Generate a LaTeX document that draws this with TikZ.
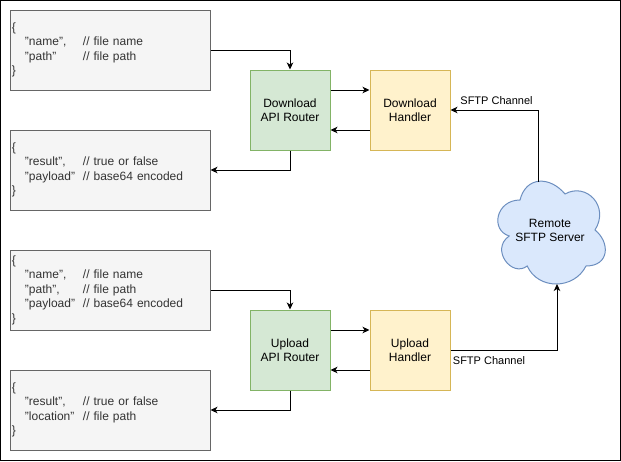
\documentclass[tikz,border=0pt]{standalone}
\usepackage{fontspec}
\setmainfont{Liberation Sans}
\usetikzlibrary{arrows.meta}
\definecolor{jsonfill}{HTML}{F5F5F5}
\definecolor{jsonline}{HTML}{666666}
\definecolor{jsontext}{HTML}{333333}
\definecolor{gfill}{HTML}{D5E8D4}
\definecolor{gline}{HTML}{82B366}
\definecolor{yfill}{HTML}{FFF2CC}
\definecolor{yline}{HTML}{D6B656}
\definecolor{bfill}{HTML}{DAE8FC}
\definecolor{bline}{HTML}{6C8EBF}
\tikzset{
  jsonbox/.style={draw=jsonline, fill=jsonfill, line width=1pt, minimum width=200pt, minimum height=80pt, text width=196pt, inner sep=2pt, align=left, text=jsontext, font=\fontsize{12}{14.5}\selectfont},
  router/.style={draw=gline, fill=gfill, line width=1pt, minimum width=80pt, minimum height=80pt, inner sep=0pt, align=center, font=\fontsize{12}{14.5}\selectfont},
  handler/.style={draw=yline, fill=yfill, line width=1pt, minimum width=80pt, minimum height=80pt, inner sep=0pt, align=center, font=\fontsize{12}{14.5}\selectfont},
  arr/.style={line width=1pt, -{Stealth[length=7pt,width=6.5pt,inset=2pt]}},
  lbl/.style={font=\fontsize{11}{13}\selectfont, inner sep=0pt},
}
\newcommand{\kv}[2]{\hspace*{13pt}\makebox[58pt][l]{#1}#2}
\begin{document}
\begin{tikzpicture}[x=1pt, y=-1pt]
\useasboundingbox (0,0) rectangle (621,461);
\draw[line width=1pt] (0.5,0.5) rectangle (620.5,460.5);

% JSON boxes
\node[jsonbox] (j1) at (110,50) {\{\\\kv{"name",}{// file name}\\\kv{"path"}{// file path}\\\}};
\node[jsonbox] (j2) at (110,170) {\{\\\kv{"result",}{// true or false}\\\kv{"payload"}{// base64 encoded}\\\}};
\node[jsonbox] (j3) at (110,290) {\{\\\kv{"name",}{// file name}\\\kv{"path",}{// file path}\\\kv{"payload"}{// base64 encoded}\\\}};
\node[jsonbox] (j4) at (110,410) {\{\\\kv{"result",}{// true or false}\\\kv{"location"}{// file path}\\\}};

% routers and handlers
\node[router] (dr) at (290,110) {Download\\API Router};
\node[handler] (dh) at (410,110) {Download\\Handler};
\node[router] (ur) at (290,350) {Upload\\API Router};
\node[handler] (uh) at (410,350) {Upload\\Handler};

% cloud
\draw[draw=bline, fill=bfill, line width=1pt]
  (520,200) .. controls (496,200) and (490,230) .. (509.2,236)
  .. controls (490,249.2) and (511.6,278) .. (527.2,266)
  .. controls (538,290) and (574,290) .. (586,266)
  .. controls (610,266) and (610,242) .. (595,230)
  .. controls (610,206) and (586,182) .. (565,194)
  .. controls (550,176) and (526,176) .. (520,200) -- cycle;
\node[align=center, font=\fontsize{12}{14.5}\selectfont] (cloud) at (550,230.5) {Remote\\SFTP Server};
\coordinate (ctop) at (538,182);
\coordinate (cbot) at (557,284);

% download connectors
\draw[arr] (j1.east) -| (dr.north);
\draw[arr] (dr.south) |- (j2.east);
\draw[arr] ([yshift=20pt]dr.east) -- ([yshift=20pt]dh.west);
\draw[arr] ([yshift=-20pt]dh.west) -- ([yshift=-20pt]dr.east);
\draw[arr] (ctop) |- (dh.east);
\node[lbl] (l1) at (496.5,101) {SFTP Channel};

% upload connectors
\draw[arr] (j3.east) -| (ur.north);
\draw[arr] (ur.south) |- (j4.east);
\draw[arr] ([yshift=20pt]ur.east) -- ([yshift=20pt]uh.west);
\draw[arr] ([yshift=-20pt]uh.west) -- ([yshift=-20pt]ur.east);
\draw[arr] (uh.east) -| (cbot);
\node[lbl] (l2) at (489,361) {SFTP Channel};
\end{tikzpicture}
\end{document}
